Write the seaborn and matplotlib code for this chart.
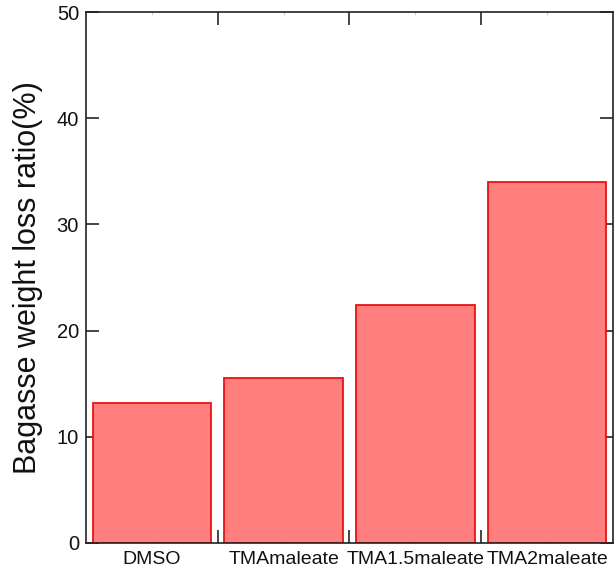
import seaborn as sns
import matplotlib.pyplot as plt

categories = ['DMSO', 'TMAmaleate', 'TMA1.5maleate', 'TMA2maleate']
loss_ratio = [13.2, 15.5, 22.4, 34.0]

sns.set_style('ticks')
plt.rcParams['font.family'] = ['Liberation Sans', 'DejaVu Sans']

fig = plt.figure(figsize=(6.16, 5.73), dpi=100)
ax = fig.add_axes([0.1396, 0.0524, 0.8554, 0.9266])

sns.barplot(x=categories, y=loss_ratio, color='#ff7f7f', saturation=1,
            edgecolor='#ee1111', linewidth=1.3, width=0.9, ax=ax)

ax.set_xlim(-0.5, 3.5)
ax.set_ylim(0, 50)
ax.set_yticks([0, 10, 20, 30, 40, 50])
ax.set_xticks(range(4))
ax.set_xticklabels(categories, fontsize=14, color='#111111')
ax.set_xticks([0.5, 1.5, 2.5], minor=True)
ax.tick_params(axis='x', which='major', direction='in', length=2, width=0.5,
               color='#bbbbbb', top=True, pad=6)
ax.tick_params(axis='x', which='minor', direction='in', length=9.5, width=1.2,
               top=True, bottom=True)
ax.tick_params(axis='y', direction='in', length=9.5, width=1.2, right=True,
               labelsize=14.5, labelcolor='#111111', pad=5)
for s in ax.spines.values():
    s.set_linewidth(1.2)
    s.set_color('#222222')
ax.set_xlabel('')
ax.set_ylabel('Bagasse weight loss ratio(%)', fontsize=22, labelpad=10,
              color='#111111')

fig.savefig('out.png', dpi=100)
